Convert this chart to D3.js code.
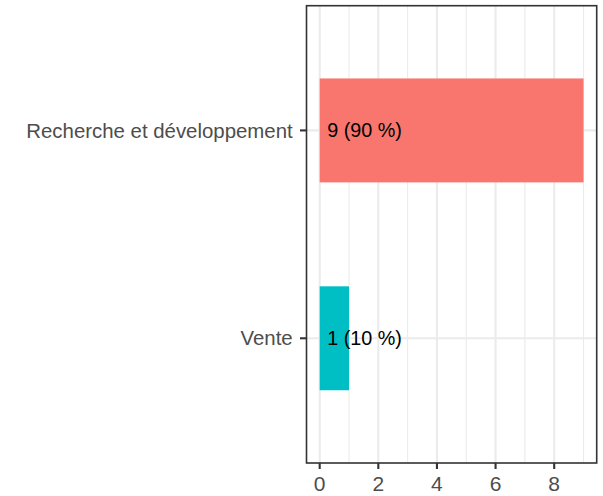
<!DOCTYPE html>
<html>
<head>
<meta charset="utf-8">
<script src="https://cdn.jsdelivr.net/npm/d3@7"></script>
<style>
  body { margin: 0; background: #fff; }
  svg { display: block; }
</style>
</head>
<body>
<svg id="chart" width="603" height="496"></svg>
<script>
const categories = ["Recherche et développement", "Vente"];
const counts = [9, 1];
const labels = ["9 (90 %)", "1 (10 %)"];
const colors = ["#F8766D", "#00BFC4"];
const xTicks = [0, 2, 4, 6, 8];
const xMinor = [1, 3, 5, 7, 9];

const svg = d3.select("#chart");
const panel = { left: 306.5, right: 596.7, top: 5.7, bottom: 463 };
const font = "Liberation Sans, Arial, Helvetica, sans-serif";

const x = d3.scaleLinear().domain([-0.45, 9.45]).range([panel.left, panel.right]);
const yPos = d3.scaleLinear().domain([0.4, categories.length + 0.6]).range([panel.top, panel.bottom]);
const barH = yPos(1.5) - yPos(1);

svg.append("rect").attr("x", panel.left).attr("y", panel.top)
  .attr("width", panel.right - panel.left).attr("height", panel.bottom - panel.top)
  .attr("fill", "#fff");

svg.selectAll(".minor").data(xMinor).enter().append("line")
  .attr("x1", d => x(d)).attr("x2", d => x(d))
  .attr("y1", panel.top).attr("y2", panel.bottom)
  .attr("stroke", "#EBEBEB").attr("stroke-width", 1.1);

svg.selectAll(".majorx").data(xTicks).enter().append("line")
  .attr("x1", d => x(d)).attr("x2", d => x(d))
  .attr("y1", panel.top).attr("y2", panel.bottom)
  .attr("stroke", "#EBEBEB").attr("stroke-width", 2.1);

svg.selectAll(".majory").data(categories).enter().append("line")
  .attr("x1", panel.left).attr("x2", panel.right)
  .attr("y1", (d, i) => yPos(i + 1)).attr("y2", (d, i) => yPos(i + 1))
  .attr("stroke", "#EBEBEB").attr("stroke-width", 2.1);

svg.selectAll(".bar").data(counts).enter().append("rect")
  .attr("x", x(0))
  .attr("y", (d, i) => yPos(i + 1) - barH / 2)
  .attr("width", d => x(d) - x(0))
  .attr("height", barH)
  .attr("fill", (d, i) => colors[i]);

svg.selectAll(".lbl").data(labels).enter().append("text")
  .attr("x", x(0) + 7.5)
  .attr("y", (d, i) => yPos(i + 1))
  .attr("dy", "0.35em")
  .attr("font-family", font).attr("font-size", 19.8)
  .attr("fill", "#000")
  .text(d => d);

svg.append("rect").attr("x", panel.left).attr("y", panel.top)
  .attr("width", panel.right - panel.left).attr("height", panel.bottom - panel.top)
  .attr("fill", "none").attr("stroke", "#333333").attr("stroke-width", 1.6);

svg.selectAll(".xt").data(xTicks).enter().append("line")
  .attr("x1", d => x(d)).attr("x2", d => x(d))
  .attr("y1", panel.bottom).attr("y2", panel.bottom + 6)
  .attr("stroke", "#333333").attr("stroke-width", 2.1);
svg.selectAll(".xl").data(xTicks).enter().append("text")
  .attr("x", d => x(d)).attr("y", 491.4)
  .attr("text-anchor", "middle")
  .attr("font-family", font).attr("font-size", 21)
  .attr("fill", "#4D4D4D")
  .text(d => d);

svg.selectAll(".yt").data(categories).enter().append("line")
  .attr("x1", panel.left - 6.5).attr("x2", panel.left)
  .attr("y1", (d, i) => yPos(i + 1)).attr("y2", (d, i) => yPos(i + 1))
  .attr("stroke", "#333333").attr("stroke-width", 2.1);
svg.selectAll(".yl").data(categories).enter().append("text")
  .attr("x", 292.7).attr("y", (d, i) => yPos(i + 1))
  .attr("dy", "0.35em")
  .attr("text-anchor", "end")
  .attr("font-family", font).attr("font-size", 20.4)
  .attr("fill", "#4D4D4D")
  .text(d => d);
</script>
</body>
</html>
